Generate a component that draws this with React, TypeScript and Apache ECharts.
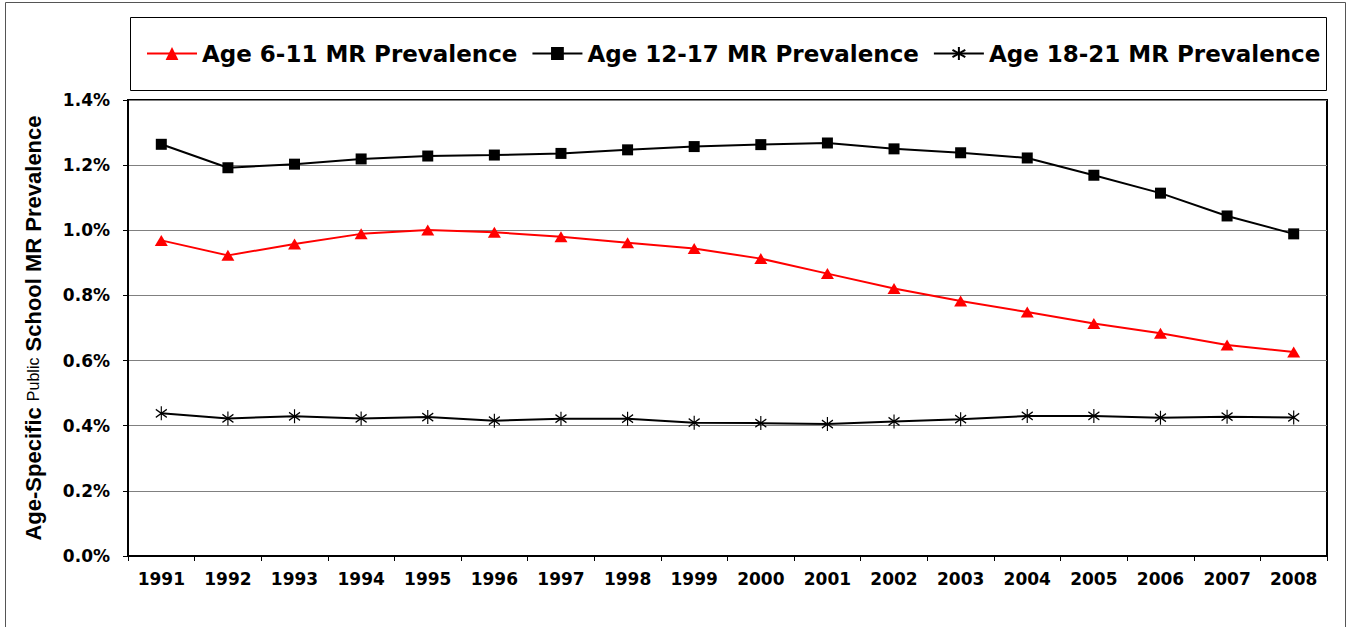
import React, { useEffect, useRef } from "react";
import * as echarts from "echarts";

const years = ["1991", "1992", "1993", "1994", "1995", "1996", "1997", "1998", "1999", "2000", "2001", "2002", "2003", "2004", "2005", "2006", "2007", "2008"];
const age611 = [0.969, 0.923, 0.958, 0.989, 1.001, 0.994, 0.98, 0.962, 0.944, 0.913, 0.867, 0.821, 0.783, 0.749, 0.714, 0.684, 0.648, 0.626];
const age1217 = [1.264, 1.192, 1.203, 1.219, 1.228, 1.231, 1.236, 1.247, 1.257, 1.263, 1.268, 1.25, 1.238, 1.222, 1.169, 1.114, 1.044, 0.989];
const age1821 = [0.438, 0.4225, 0.4287, 0.4225, 0.4266, 0.4154, 0.4215, 0.4215, 0.4092, 0.408, 0.405, 0.413, 0.42, 0.43, 0.43, 0.4246, 0.4276, 0.4256];
const seriesNames = ["Age 6-11 MR Prevalence", "Age 12-17 MR Prevalence", "Age 18-21 MR Prevalence"];

const HFONT = "'DejaVu Sans', sans-serif";
const VFONT = "'Liberation Sans', Arial, sans-serif";

export default function App() {
  const ref = useRef<HTMLDivElement>(null);
  useEffect(() => {
    if (!ref.current) return;
    const chart = echarts.init(ref.current, null, { renderer: "svg" });
    chart.setOption({
      animation: false,
      backgroundColor: "#fff",
      graphic: [
        {
          type: "rect",
          shape: { x: 5.5, y: 2.5, width: 1340, height: 660 },
          style: { fill: "none", stroke: "#555", lineWidth: 1 },
          silent: true,
        },
        {
          type: "rect",
          shape: { x: 130.5, y: 17.5, width: 1196, height: 73 },
          style: { fill: "none", stroke: "#000", lineWidth: 1 },
          silent: true,
        },
      ],
      legend: {
        left: 141,
        top: 37,
        itemWidth: 50,
        itemHeight: 16,
        itemGap: 14,
        data: seriesNames,
        textStyle: { fontFamily: HFONT, fontWeight: "bold", fontSize: 23, color: "#000", padding: [0, 0, 0, 0] },
      },
      grid: {
        left: 128,
        right: 21,
        top: 100,
        bottom: 71,
        show: true,
        borderColor: "#000",
        borderWidth: 2,
        containLabel: false,
      },
      xAxis: {
        type: "category",
        data: years,
        boundaryGap: true,
        axisLine: { lineStyle: { color: "#000", width: 2 } },
        axisTick: { show: true, length: 5, lineStyle: { color: "#000", width: 1 } },
        axisLabel: { fontFamily: HFONT, fontWeight: "bold", fontSize: 17, color: "#000", margin: 14, interval: 0 },
        splitLine: { show: false },
      },
      yAxis: {
        type: "value",
        min: 0,
        max: 1.4,
        interval: 0.2,
        name: "{b|Age-Specific }{s|Public}{b| School MR Prevalence}",
        nameLocation: "middle",
        nameRotate: 90,
        nameGap: 84,
        nameTextStyle: {
          rich: {
            b: { fontFamily: VFONT, fontWeight: "bold", fontSize: 22, color: "#000" },
            s: { fontFamily: VFONT, fontWeight: "normal", fontSize: 16, color: "#000" },
          },
        },
        axisLine: { show: true, lineStyle: { color: "#000", width: 2 } },
        axisTick: { show: true, length: 5, lineStyle: { color: "#000", width: 1 } },
        axisLabel: {
          fontFamily: HFONT,
          fontWeight: "bold",
          fontSize: 17,
          color: "#000",
          margin: 18,
          formatter: (v: number) => v.toFixed(1) + "%",
        },
        splitLine: { show: true, lineStyle: { color: "#808080", width: 1 } },
      },
      series: [
        {
          name: seriesNames[0],
          type: "line",
          data: age611,
          symbol: "triangle",
          symbolSize: [13, 11],
          lineStyle: { color: "#ff0000", width: 2 },
          itemStyle: { color: "#ff0000" },
        },
        {
          name: seriesNames[1],
          type: "line",
          data: age1217,
          symbol: "rect",
          symbolSize: 11,
          lineStyle: { color: "#000", width: 2 },
          itemStyle: { color: "#000" },
        },
        {
          name: seriesNames[2],
          type: "line",
          data: age1821,
          symbol: "path://M5,0L5,14M0,3L10,11M0,11L10,3",
          symbolSize: [11, 14],
          lineStyle: { color: "#000", width: 2 },
          itemStyle: { color: "#000", borderColor: "#000", borderWidth: 1.3 },
        },
      ],
    });
    return () => chart.dispose();
  }, []);
  return (
    <div
      ref={ref}
      style={{ position: "fixed", left: 0, top: 0, width: 1348, height: 627 }}
    />
  );
}
